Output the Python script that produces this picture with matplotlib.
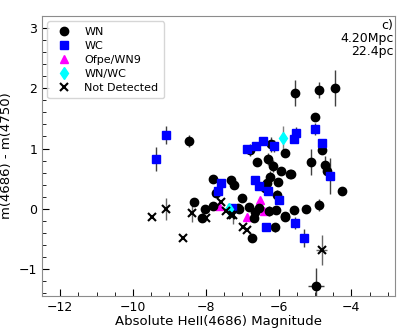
import matplotlib
matplotlib.use("Agg")
import matplotlib.pyplot as plt
from matplotlib.lines import Line2D
from matplotlib.ticker import AutoMinorLocator

# WN stars: magnitude, colour, colour error
wn_x = [-8.45, -8.33, -8.01, -8.10, -7.79, -7.72, -7.31, -7.22, -7.81, -7.11,
        -6.79, -6.20, -5.81, -6.58, -6.28, -6.15, -5.94, -5.68, -5.12, -6.24,
        -6.31, -6.37, -6.02, -6.04, -7.01, -7.10, -6.81, -6.64, -6.54, -6.67,
        -6.26, -6.08, -5.81, -5.58, -5.26, -5.83, -6.11, -6.74, -5.56, -4.90,
        -4.46, -5.01, -4.81, -4.73, -4.67, -5.67, -4.26, -4.88, -4.96]
wn_y = [1.13, 0.12, 0.00, -0.16, 0.50, 0.26, 0.48, 0.40, 0.05, 0.02,
        0.98, 1.07, 0.92, 0.78, 0.82, 0.71, 0.63, 0.58, 0.78, 0.53,
        0.43, 0.35, 0.44, 0.23, 0.18, 0.00, 0.03, -0.06, 0.01, -0.16,
        -0.04, -0.02, -0.12, -0.02, 0.00, -0.14, -0.31, -0.49, 1.92, 1.97,
        2.00, 1.52, 0.97, 0.73, 0.62, 0.57, 0.30, 0.07, -1.28]
wn_yerr = [0.10, 0.00, 0.00, 0.00, 0.00, 0.00, 0.05, 0.05, 0.00, 0.00,
           0.10, 0.12, 0.00, 0.00, 0.10, 0.10, 0.00, 0.00, 0.22, 0.10,
           0.00, 0.00, 0.05, 0.08, 0.00, 0.00, 0.00, 0.00, 0.00, 0.00,
           0.08, 0.00, 0.00, 0.00, 0.07, 0.00, 0.08, 0.00, 0.22, 0.13,
           0.30, 0.07, 0.00, 0.15, 0.10, 0.00, 0.00, 0.10, 0.30]
wn_xerr = [0.0] * 48 + [0.22]

# WC stars
wc_x = [-9.08, -9.38, -7.58, -7.67, -7.28, -5.52, -5.58, -6.88, -6.63, -6.43,
        -6.13, -6.64, -6.55, -6.30, -6.00, -6.35, -5.56, -5.29, -4.99, -4.82,
        -4.60]
wc_y = [1.23, 0.82, 0.42, 0.29, 0.02, 1.25, 1.15, 0.99, 1.04, 1.12,
        1.04, 0.47, 0.37, 0.30, 0.15, -0.30, -0.23, -0.48, 1.33, 1.09,
        0.55]
wc_yerr = [0.15, 0.20, 0.00, 0.00, 0.00, 0.10, 0.00, 0.00, 0.00, 0.00,
           0.10, 0.00, 0.00, 0.00, 0.00, 0.00, 0.10, 0.15, 0.10, 0.00,
           0.30]

# Ofpe/WN9
of_x = [-7.63, -6.52, -6.86, -6.40]
of_y = [0.04, 0.15, -0.14, -0.04]

# WN/WC
wnwc_x = [-7.36, -5.87]
wnwc_y = [0.00, 1.17]
wnwc_yerr = [0.00, 0.20]

# not detected
nd_x = [-9.48, -9.10, -8.37, -8.63, -7.99, -7.58, -7.45, -7.31, -7.26, -6.99,
        -6.86, -4.82]
nd_y = [-0.13, 0.00, -0.07, -0.49, -0.16, 0.12, -0.04, -0.10, -0.10, -0.31,
        -0.36, -0.69]
nd_yerr = [0.00, 0.18, 0.15, 0.00, 0.00, 0.00, 0.00, 0.00, 0.15, 0.00,
           0.00, 0.25]
nd_xerr = [0.0] * 11 + [0.15]

fig = plt.figure(figsize=(4.15, 3.32), dpi=100)
ax = fig.add_axes([0.101, 0.108, 0.851, 0.844])

ax.errorbar(wn_x, wn_y, yerr=wn_yerr, xerr=wn_xerr, fmt='o', color='k', ms=6,
            ecolor='0.25', elinewidth=1, capsize=0)
ax.errorbar(wc_x, wc_y, yerr=wc_yerr, fmt='s', color='blue', ms=6,
            ecolor='0.25', elinewidth=1, capsize=0)
ax.plot(of_x, of_y, '^', color='magenta', ms=6)
ax.errorbar(wnwc_x, wnwc_y, yerr=wnwc_yerr, fmt='d', color='cyan', ms=6,
            ecolor='0.5', elinewidth=1, capsize=0)
ax.errorbar(nd_x, nd_y, yerr=nd_yerr, xerr=nd_xerr, fmt='x', color='k', ms=6,
            mew=1.5, ecolor='0.4', elinewidth=1, capsize=0)

ax.set_xlim(-12.5, -2.8)
ax.set_ylim(-1.45, 3.2)
ax.xaxis.set_minor_locator(AutoMinorLocator())
ax.yaxis.set_minor_locator(AutoMinorLocator())
ax.tick_params(which='both', direction='in', labelsize=9)
ax.tick_params(which='major', length=5)
ax.tick_params(which='minor', length=3)
for s in ax.spines.values():
    s.set_color('0.55')

ax.set_xlabel('Absolute HeII(4686) Magnitude', fontsize=9.5, labelpad=1)
ax.set_ylabel('m(4686) - m(4750)', fontsize=9.5)
ax.text(0.995, 0.99, 'c)\n4.20Mpc\n22.4pc', transform=ax.transAxes,
        ha='right', va='top', fontsize=9, linespacing=1.0)

labels = ['WN', 'WC', 'Ofpe/WN9', 'WN/WC', 'Not Detected']
markers = ['o', 's', '^', 'd', 'x']
colors = ['k', 'blue', 'magenta', 'cyan', 'k']
handles = [Line2D([], [], ls='none', marker=m, color=c, ms=6, mew=1.5 if m == 'x' else 1)
           for m, c in zip(markers, colors)]
ax.legend(handles, labels, loc='upper left', fontsize=8, handletextpad=0.8,
          borderpad=0.5, labelspacing=0.35)

fig.savefig('out.png', dpi=100)
